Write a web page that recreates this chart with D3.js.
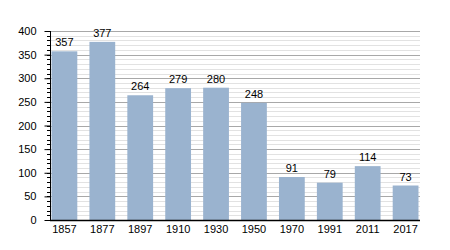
<!DOCTYPE html>
<html>
<head>
<meta charset="utf-8">
<script src="https://cdn.jsdelivr.net/npm/d3@7"></script>
<style>
body { margin: 0; background: #fff; }
text { font-family: "Liberation Sans", Arial, sans-serif; font-size: 11px; fill: #000; }
</style>
</head>
<body>
<script>
const w = 450, h = 250;

const years = ["1857", "1877", "1897", "1910", "1930", "1950", "1970", "1991", "2011", "2017"];
const population = [357, 377, 264, 279, 280, 248, 91, 79, 114, 73];
const yTicks = [0, 50, 100, 150, 200, 250, 300, 350, 400];

const mLeft = 50, mRight = 420, mTop = 31, mBottom = 220;

let svg = d3.select("body").append("svg")
  .attr("width", w)
  .attr("height", h);

const x = d3.scaleBand().domain(years).range([mLeft, mRight]).paddingInner(0.32).paddingOuter(0.04);
const y = d3.scaleLinear().domain([0, 400]).range([mBottom, mTop]);

// minor grid every 10
svg.append("g").selectAll("line")
  .data(d3.range(0, 401, 10).filter(d => d % 50 != 0))
  .join("line")
  .attr("x1", mLeft).attr("x2", mRight)
  .attr("y1", d => Math.round(y(d)) + 0.5).attr("y2", d => Math.round(y(d)) + 0.5)
  .attr("stroke", "#e2e2e2");

// major grid
svg.append("g").selectAll("line")
  .data(yTicks.filter(d => d > 0))
  .join("line")
  .attr("x1", mLeft).attr("x2", mRight)
  .attr("y1", d => Math.round(y(d)) + 0.5).attr("y2", d => Math.round(y(d)) + 0.5)
  .attr("stroke", "#a8a8a8");

// bars
svg.append("g").selectAll("rect")
  .data(years)
  .join("rect")
  .attr("x", d => x(d))
  .attr("width", x.bandwidth())
  .attr("y", (d, i) => y(population[i]))
  .attr("height", (d, i) => mBottom - y(population[i]))
  .attr("fill", "#9ab3cf");

// value labels
svg.append("g").selectAll("text")
  .data(years)
  .join("text")
  .attr("x", d => x(d) + x.bandwidth() / 2)
  .attr("y", (d, i) => y(population[i]) - 5)
  .attr("text-anchor", "middle")
  .text((d, i) => population[i]);

// y axis minor ticks
svg.append("g").selectAll("line")
  .data(d3.range(0, 401, 10))
  .join("line")
  .attr("x1", mLeft - 3).attr("x2", mLeft)
  .attr("y1", d => Math.round(y(d)) + 0.5).attr("y2", d => Math.round(y(d)) + 0.5)
  .attr("stroke", "#000");

const yAxis = svg.append("g")
  .attr("transform", `translate(${mLeft + 0.5},0)`)
  .call(d3.axisLeft(y).tickValues(yTicks).tickSize(6).tickPadding(8));
yAxis.select(".domain").remove();
yAxis.selectAll("text").style("font-size", "11px").style("font-family", "Liberation Sans, Arial, sans-serif");

svg.append("line")
  .attr("x1", mLeft + 0.5).attr("x2", mLeft + 0.5)
  .attr("y1", mTop).attr("y2", mBottom + 1)
  .attr("stroke", "#000");

const xAxis = svg.append("g")
  .attr("transform", `translate(0,${mBottom + 0.5})`)
  .call(d3.axisBottom(x).tickSize(0).tickPadding(5));
xAxis.select(".domain").attr("d", `M${mLeft},0H${mRight}`).attr("stroke", "#000").attr("stroke-width", 1.5);
xAxis.selectAll("text").style("font-size", "11px").style("font-family", "Liberation Sans, Arial, sans-serif");
</script>
</body>
</html>
